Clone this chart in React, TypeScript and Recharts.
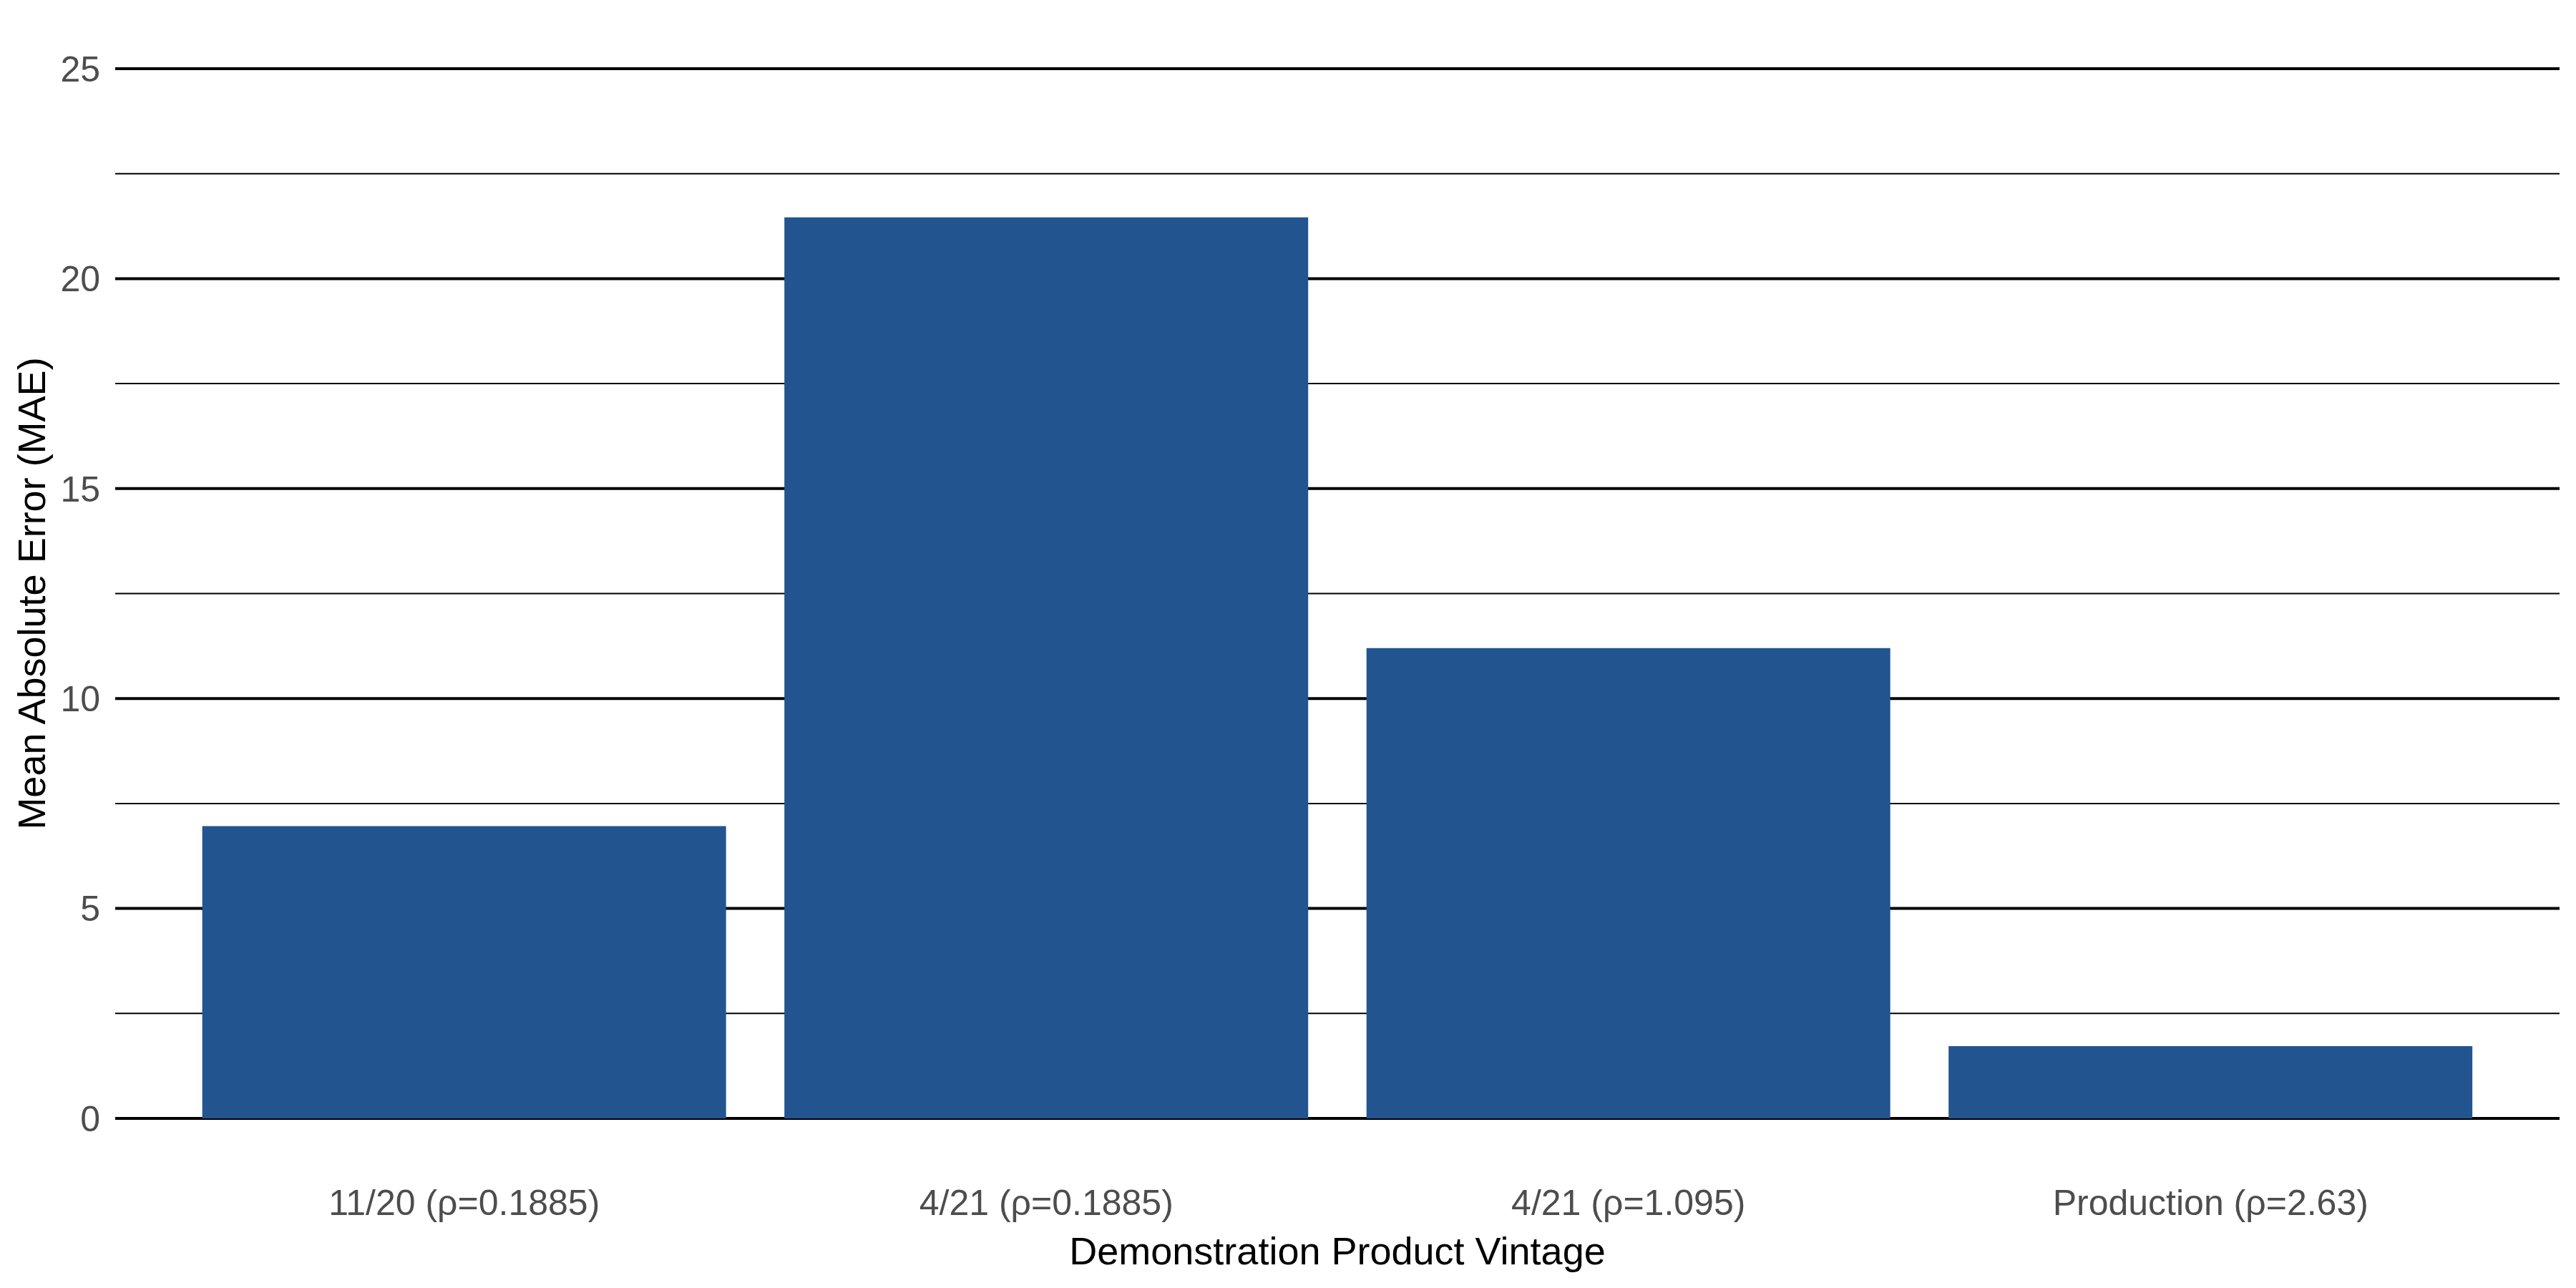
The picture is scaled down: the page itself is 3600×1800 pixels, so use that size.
import React from 'react';
import { BarChart, Bar, XAxis, YAxis, CartesianGrid, Label } from 'recharts';

// categories and values
const vintages = ['11/20 (ρ=0.1885)', '4/21 (ρ=0.1885)', '4/21 (ρ=1.095)', 'Production (ρ=2.63)'];
const maeValues = [6.96, 21.46, 11.2, 1.72];
const majorTicks = [0, 5, 10, 15, 20, 25];
const minorTicks = [2.5, 7.5, 12.5, 17.5, 22.5];

const data = vintages.map((name, i) => ({ name, mae: maeValues[i] }));

const FONT = '"Liberation Sans", Arial, sans-serif';
const BAR_COLOR = '#22558F';

// rotated y-axis title, centred on the plot height
const renderYTitle = (props: any) => {
  const { viewBox } = props;
  const x = viewBox.x + 63;
  const y = viewBox.y + viewBox.height / 2;
  return (
    <text
      x={x}
      y={y}
      transform={`rotate(-90, ${x}, ${y})`}
      textAnchor="middle"
      fill="#000000"
      fontSize={54}
      fontFamily={FONT}
    >
      Mean Absolute Error (MAE)
    </text>
  );
};

const App: React.FC = () => {
  return (
    <div style={{ position: 'absolute', left: 0, top: 0, background: '#ffffff' }}>
      <BarChart
        width={3600}
        height={1800}
        data={data}
        margin={{ top: 96, right: 23, left: 0, bottom: 0 }}
        barCategoryGap="5%"
      >
        <CartesianGrid
          vertical={false}
          horizontalValues={minorTicks}
          stroke="#000000"
          strokeWidth={2}
        />
        <CartesianGrid
          vertical={false}
          horizontalValues={majorTicks}
          stroke="#000000"
          strokeWidth={4}
        />
        <XAxis
          dataKey="name"
          height={237}
          axisLine={false}
          tickLine={false}
          tickSize={0}
          tickMargin={99}
          padding={{ left: 81, right: 81 }}
          tick={{ fill: '#4D4D4D', fontSize: 50, fontFamily: FONT }}
          interval={0}
        >
          <Label
            value="Demonstration Product Vintage"
            position="insideBottom"
            offset={33}
            fill="#000000"
            fontSize={54}
            fontFamily={FONT}
          />
        </XAxis>
        <YAxis
          width={161}
          domain={[0, 25]}
          ticks={majorTicks}
          axisLine={false}
          tickLine={false}
          tickSize={0}
          tickMargin={21}
          tick={{ fill: '#4D4D4D', fontSize: 50, fontFamily: FONT }}
        >
          <Label content={renderYTitle} />
        </YAxis>
        <Bar dataKey="mae" fill={BAR_COLOR} isAnimationActive={false} />
      </BarChart>
    </div>
  );
};

export default App;
